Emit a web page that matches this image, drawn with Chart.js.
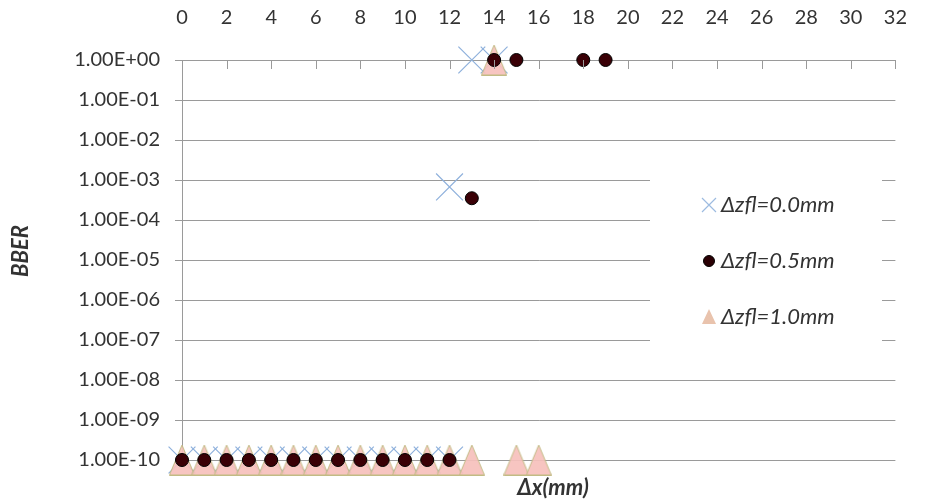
<!DOCTYPE html>
<html>
<head>
<meta charset="utf-8">
<script src="https://cdn.jsdelivr.net/npm/chart.js@4.4.0/dist/chart.umd.min.js"></script>
<style>
  html, body { margin: 0; padding: 0; background: #fff; }
  .wrap { position: relative; width: 937px; height: 502px; }
</style>
</head>
<body>
<div class="wrap"><canvas id="bberChart"></canvas></div>
<script>
// valores
const seriesNames = ['Δzfl=0.0mm', 'Δzfl=0.5mm', 'Δzfl=1.0mm'];

const xZfl00 = [0, 1, 2, 3, 4, 5, 6, 7, 8, 9, 10, 11, 12, 12, 13, 14];
const yZfl00 = [1e-10, 1e-10, 1e-10, 1e-10, 1e-10, 1e-10, 1e-10, 1e-10, 1e-10, 1e-10, 1e-10, 1e-10, 1e-10, 6.7e-4, 1, 1];

const xZfl05 = [0, 1, 2, 3, 4, 5, 6, 7, 8, 9, 10, 11, 12, 13, 14, 15, 18, 19];
const yZfl05 = [1e-10, 1e-10, 1e-10, 1e-10, 1e-10, 1e-10, 1e-10, 1e-10, 1e-10, 1e-10, 1e-10, 1e-10, 1e-10, 3.5e-4, 1, 1, 1, 1];

const xZfl10 = [0, 1, 2, 3, 4, 5, 6, 7, 8, 9, 10, 11, 12, 13, 14, 15, 16];
const yZfl10 = [1e-10, 1e-10, 1e-10, 1e-10, 1e-10, 1e-10, 1e-10, 1e-10, 1e-10, 1e-10, 1e-10, 1e-10, 1e-10, 1e-10, 1, 1e-10, 1e-10];

const yTicks = [1, 1e-1, 1e-2, 1e-3, 1e-4, 1e-5, 1e-6, 1e-7, 1e-8, 1e-9, 1e-10];
const xMin = 0, xMax = 32, xStep = 2;

const xTitle = 'Δx(mm)';
const yTitle = 'BBER';

const fontFam = 'Lato, "Open Sans", sans-serif';
const gris = '#9a9a9a';
const texto = '#333333';

const toPoints = (xs, ys) => xs.map((x, i) => ({ x, y: ys[i] }));

// formato tipo Excel: 1.00E-05
const fmtExp = (v) => {
    const e = Math.round(Math.log10(v));
    return `1.00E${e < 0 ? '-' : '+'}${String(Math.abs(e)).padStart(2, '0')}`;
};

// triángulo rosa (más alto que equilátero) como imagen de punto
function makeTriangle(w, h, fill, stroke) {
    const c = document.createElement('canvas');
    c.width = w; c.height = h;
    const g = c.getContext('2d');
    g.beginPath();
    g.moveTo(w / 2, 0.5);
    g.lineTo(w - 0.5, h - 0.5);
    g.lineTo(0.5, h - 0.5);
    g.closePath();
    g.fillStyle = fill;
    g.fill();
    g.strokeStyle = stroke;
    g.lineWidth = 1;
    g.stroke();
    return c;
}
const triImg = makeTriangle(26, 31, 'rgba(246,192,188,0.92)', '#c2bb84');

// ticks hacia dentro en el eje superior + títulos + leyenda
const extrasPlugin = {
    id: 'extras',
    afterDraw(chart) {
        const { ctx, chartArea, scales } = chart;
        ctx.save();

        // marcas del eje X (hacia abajo)
        ctx.strokeStyle = gris;
        ctx.lineWidth = 1;
        for (let v = xMin; v <= xMax; v += xStep) {
            const px = Math.round(scales.x.getPixelForValue(v)) + 0.5;
            ctx.beginPath();
            ctx.moveTo(px, chartArea.top);
            ctx.lineTo(px, chartArea.top + 9);
            ctx.stroke();
        }

        // título eje X (abajo)
        ctx.fillStyle = texto;
        ctx.font = `italic bold 22px ${fontFam}`;
        ctx.textAlign = 'center';
        ctx.textBaseline = 'middle';
        ctx.fillText(xTitle, 553, 488);

        // título eje Y
        ctx.save();
        ctx.translate(21, 251);
        ctx.rotate(-Math.PI / 2);
        ctx.fillText(yTitle, 0, 0);
        ctx.restore();

        // leyenda con fondo blanco
        ctx.fillStyle = '#ffffff';
        ctx.fillRect(650, 166, 232, 188);

        const rows = [205, 261, 317];
        const mx = 709;

        // X
        ctx.strokeStyle = '#9dbbe0';
        ctx.lineWidth = 1.2;
        ctx.beginPath();
        ctx.moveTo(mx - 7, rows[0] - 7); ctx.lineTo(mx + 7, rows[0] + 7);
        ctx.moveTo(mx + 7, rows[0] - 7); ctx.lineTo(mx - 7, rows[0] + 7);
        ctx.stroke();

        // círculo
        ctx.beginPath();
        ctx.arc(mx, rows[1], 5.5, 0, Math.PI * 2);
        ctx.fillStyle = '#2a0004';
        ctx.fill();
        ctx.strokeStyle = '#000';
        ctx.lineWidth = 1;
        ctx.stroke();

        // triángulo
        ctx.beginPath();
        ctx.moveTo(mx, rows[2] - 8);
        ctx.lineTo(mx + 7, rows[2] + 7);
        ctx.lineTo(mx - 7, rows[2] + 7);
        ctx.closePath();
        ctx.fillStyle = '#e9c3ad';
        ctx.fill();

        ctx.fillStyle = texto;
        ctx.font = `italic 22px ${fontFam}`;
        ctx.textAlign = 'left';
        ctx.textBaseline = 'middle';
        seriesNames.forEach((name, i) => ctx.fillText(name, 721, rows[i]));

        ctx.restore();
    }
};

const ctx = document.getElementById('bberChart').getContext('2d');

new Chart(ctx, {
    type: 'scatter',
    data: {
        datasets: [
            {
                label: seriesNames[0],
                data: toPoints(xZfl00, yZfl00),
                pointStyle: 'crossRot',
                pointRadius: 19,
                pointHoverRadius: 19,
                borderColor: '#8fb1dc',
                backgroundColor: '#8fb1dc',
                borderWidth: 1.2,
                clip: false,
                order: 3
            },
            {
                label: seriesNames[1],
                data: toPoints(xZfl05, yZfl05),
                pointStyle: 'circle',
                pointRadius: 6.5,
                pointHoverRadius: 6.5,
                backgroundColor: '#3a0006',
                borderColor: '#000000',
                borderWidth: 1,
                clip: false,
                order: 1
            },
            {
                label: seriesNames[2],
                data: toPoints(xZfl10, yZfl10),
                pointStyle: triImg,
                backgroundColor: '#f6c0bc',
                borderColor: '#c2bb84',
                clip: false,
                order: 2
            }
        ]
    },
    options: {
        responsive: true,
        maintainAspectRatio: false,
        animation: false,
        events: [],
        layout: { padding: { left: 0, top: 0, right: 16, bottom: 42 } },
        plugins: {
            legend: { display: false },
            tooltip: { enabled: false }
        },
        scales: {
            x: {
                type: 'linear',
                position: 'top',
                min: xMin,
                max: xMax,
                grid: { display: true, drawOnChartArea: false, drawTicks: false },
                border: { display: true, color: gris, width: 1 },
                ticks: {
                    stepSize: xStep,
                    color: texto,
                    padding: 30,
                    font: { family: fontFam, size: 20 }
                },
                afterFit: (s) => { s.height = 60; }
            },
            y: {
                type: 'logarithmic',
                position: 'left',
                min: yTicks[yTicks.length - 1],
                max: yTicks[0],
                afterBuildTicks: (s) => { s.ticks = yTicks.map(v => ({ value: v })); },
                grid: { color: gris, lineWidth: 1, tickLength: 7 },
                border: { display: true, color: gris, width: 1 },
                ticks: {
                    color: texto,
                    padding: 15,
                    autoSkip: false,
                    font: { family: fontFam, size: 20 },
                    callback: (v) => fmtExp(v)
                },
                afterFit: (s) => { s.width = 182; }
            }
        }
    },
    plugins: [extrasPlugin]
});
</script>
</body>
</html>
